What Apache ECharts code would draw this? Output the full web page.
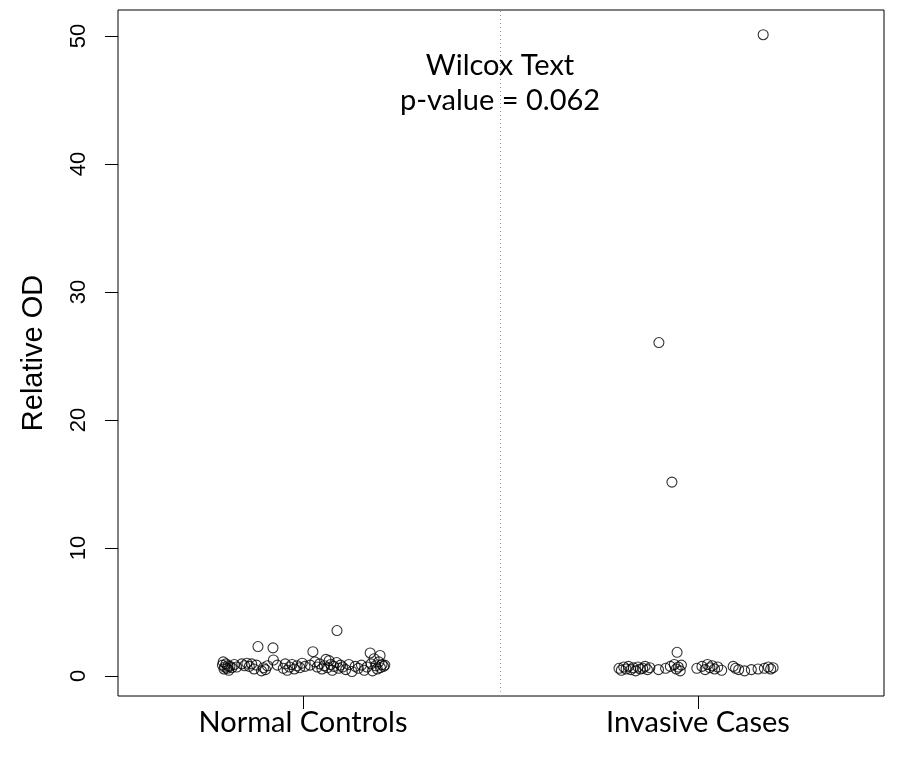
<!DOCTYPE html>
<html>
<head>
<meta charset="utf-8">
<script src="https://cdn.jsdelivr.net/npm/echarts@6/dist/echarts.min.js"></script>
<style>html,body{margin:0;padding:0;background:#fff}#c{width:900px;height:764px}</style>
</head>
<body>
<div id="c"></div>
<script>
const categories = ['Normal Controls', 'Invasive Cases'];
const yTicks = [0, 10, 20, 30, 40, 50];
const annotation = ['Wilcox Text', 'p-value = 0.062'];

// jittered x positions and Relative OD values
const normalX = [0.796,0.798,0.800,0.802,0.805,0.808,0.810,0.812,0.815,0.820,0.826,0.832,0.845,0.852,0.858,0.864,0.870,0.876,0.882,0.886,0.895,0.900,0.905,0.910,0.924,0.925,0.935,0.950,0.955,0.960,0.966,0.972,0.978,0.985,0.992,0.998,1.005,1.025,1.018,1.030,1.036,1.042,1.048,1.054,1.058,1.062,1.066,1.070,1.074,1.078,1.086,1.085,1.090,1.095,1.100,1.108,1.116,1.124,1.132,1.140,1.148,1.155,1.162,1.170,1.172,1.176,1.180,1.184,1.188,1.192,1.196,1.200,1.195,1.204,1.207];
const normalY = [0.85,1.10,0.55,0.70,0.95,0.60,0.80,0.45,0.75,0.65,0.90,0.70,0.95,0.80,1.00,0.75,0.95,0.55,0.85,2.30,0.40,0.65,0.50,0.80,2.20,1.25,0.85,0.60,0.95,0.45,0.70,0.90,0.55,0.80,0.65,1.00,0.75,1.90,0.85,1.10,0.70,0.95,0.55,0.80,1.30,0.65,1.20,0.90,0.45,0.75,3.55,1.05,0.60,0.85,0.70,0.50,0.90,0.35,0.75,0.60,0.85,0.45,0.70,1.80,0.95,0.40,1.35,0.80,0.55,1.10,0.65,0.90,1.60,0.75,0.85];

const invasiveX = [1.800,1.806,1.812,1.818,1.824,1.830,1.836,1.842,1.848,1.854,1.860,1.866,1.872,1.878,1.901,1.900,1.918,1.930,1.934,1.947,1.940,1.945,1.950,1.955,1.958,1.997,2.010,2.018,2.024,2.030,2.036,2.042,2.050,2.060,2.089,2.095,2.103,2.118,2.135,2.152,2.165,2.168,2.178,2.184,2.190];
const invasiveY = [0.60,0.45,0.70,0.55,0.75,0.50,0.65,0.40,0.70,0.55,0.60,0.75,0.50,0.65,26.05,0.50,0.60,0.75,15.15,1.85,0.90,0.55,0.70,0.40,0.85,0.60,0.75,0.50,0.90,0.65,0.80,0.55,0.70,0.45,0.75,0.60,0.50,0.40,0.50,0.55,50.10,0.60,0.70,0.55,0.65];

const xMin = 0.5316, xMax = 2.4709, yMin = -1.5625, yMax = 52.03;

const zip = (xs, ys) => xs.map((x, i) => [x, ys[i]]);
const markStyle = { color: 'rgba(0,0,0,0)', borderColor: '#000', borderWidth: 1.1 };
const textFont = 'Lato';

const chart = echarts.init(document.getElementById('c'), null, { renderer: 'canvas' });
chart.setOption({
  animation: false,
  backgroundColor: '#fff',
  grid: { left: 118, top: 10, width: 766, height: 686, show: true, borderColor: '#000', borderWidth: 1, backgroundColor: 'transparent' },
  xAxis: {
    type: 'value', min: xMin, max: xMax,
    axisLine: { show: false, onZero: false },
    splitLine: { show: false },
    axisTick: { show: true, customValues: [1, 2], length: 13, lineStyle: { color: '#000' } },
    axisLabel: { customValues: [1, 2], formatter: v => categories[Math.round(v) - 1], margin: 12, color: '#000', fontSize: 29, fontFamily: textFont }
  },
  yAxis: {
    type: 'value', min: yMin, max: yMax,
    name: 'Relative OD', nameLocation: 'middle', nameRotate: 90, nameGap: 70,
    nameTextStyle: { color: '#000', fontSize: 29, fontFamily: 'Liberation Sans' },
    axisLine: { show: false, onZero: false },
    splitLine: { show: false },
    axisTick: { show: true, customValues: yTicks, length: 13, lineStyle: { color: '#000' } },
    axisLabel: { customValues: yTicks, rotate: 90, margin: 28, color: '#000', fontSize: 22, fontFamily: 'Liberation Sans' }
  },
  graphic: [
    { type: 'text', style: { text: annotation[0], fontSize: 29, fontFamily: textFont, fill: '#000', textAlign: 'center', textVerticalAlign: 'middle', x: 500, y: 66 } },
    { type: 'text', style: { text: annotation[1], fontSize: 29, fontFamily: textFont, fill: '#000', textAlign: 'center', textVerticalAlign: 'middle', x: 500, y: 101 } }
  ],
  series: [
    { type: 'scatter', name: categories[0], data: zip(normalX, normalY), symbol: 'circle', symbolSize: 10, itemStyle: markStyle,
      markLine: { silent: true, symbol: 'none', label: { show: false }, lineStyle: { color: '#999', type: [1, 3], width: 1 }, data: [{ xAxis: 1.5 }] } },
    { type: 'scatter', name: categories[1], data: zip(invasiveX, invasiveY), symbol: 'circle', symbolSize: 10, itemStyle: markStyle }
  ]
});
</script>
</body>
</html>
